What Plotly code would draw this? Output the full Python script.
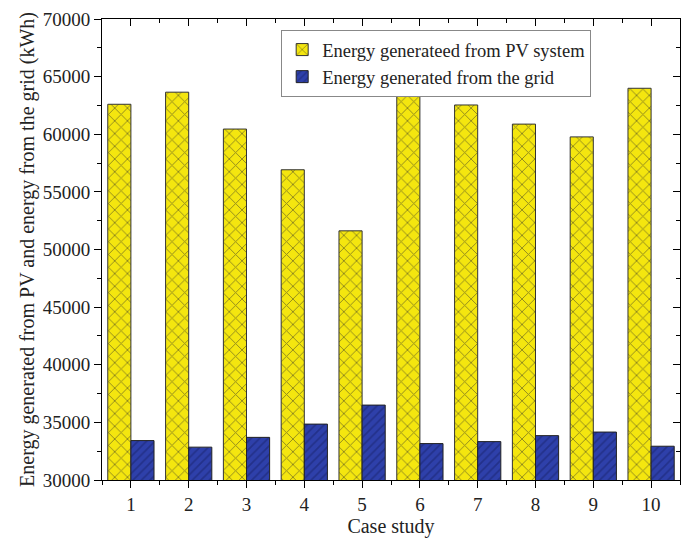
import plotly.graph_objects as go

cases = [1, 2, 3, 4, 5, 6, 7, 8, 9, 10]
pv_energy = [62600, 63650, 60450, 56920, 51620, 63330, 62540, 60880, 59770, 63990]
grid_energy = [33420, 32850, 33700, 34850, 36500, 33160, 33330, 33850, 34160, 32930]
y_ticks = [30000, 35000, 40000, 45000, 50000, 55000, 60000, 65000, 70000]

FONT = "Liberation Serif"

fig = go.Figure()
fig.add_trace(go.Bar(
    x=cases, y=pv_energy, name="Energy generateed from PV system",
    marker=dict(color="#F4E60F", line=dict(color="#333333", width=1),
                pattern=dict(shape="x", fgcolor="#2a2a2a", size=9, solidity=0.2)),
))
fig.add_trace(go.Bar(
    x=cases, y=grid_energy, name="Energy generated from the grid",
    marker=dict(color="#2E40AA", line=dict(color="#222222", width=1),
                pattern=dict(shape="/", fgcolor="#18226A", size=6, solidity=0.3)),
))
# helper trace so the mirrored (inside-tick) axes are drawn
fig.add_trace(go.Scatter(x=[], y=[], xaxis="x2", yaxis="y2", showlegend=False, hoverinfo="skip"))

xr = [0.5, 10.5]
yr = [30000, 70000]

fig.update_layout(
    width=689, height=538,
    margin=dict(l=102, r=9, t=16, b=54),
    paper_bgcolor="white", plot_bgcolor="white",
    barmode="group", bargap=0.2, bargroupgap=0,
    font=dict(family=FONT, size=19, color="#222222"),
    showlegend=True,
    legend=dict(x=0.31, y=0.976, xanchor="left", yanchor="top",
                bordercolor="#888888", borderwidth=1, bgcolor="white",
                font=dict(family=FONT, size=18.5), tracegroupgap=0),
    xaxis=dict(range=xr, tickmode="array", tickvals=cases, ticktext=[str(c) for c in cases],
               ticks="outside", ticklen=7, tickcolor="black", tickwidth=1,
               minor=dict(ticks="outside", ticklen=4, tickcolor="black", tick0=0.5, dtick=1),
               showline=True, linecolor="black", linewidth=1, showgrid=False, zeroline=False,
               title=dict(text="Case study", font=dict(family=FONT, size=20), standoff=0),
               tickfont=dict(family=FONT, size=19)),
    yaxis=dict(range=yr, tickmode="array", tickvals=y_ticks, ticktext=[str(v) for v in y_ticks],
               ticks="outside", ticklen=7, tickcolor="black", tickwidth=1,
               minor=dict(ticks="outside", ticklen=4, tickcolor="black", tick0=32500, dtick=5000),
               showline=True, linecolor="black", linewidth=1, showgrid=False, zeroline=False,
               title=dict(text="Energy generated from PV and energy from the grid (kWh)",
                          font=dict(family=FONT, size=20), standoff=2),
               tickfont=dict(family=FONT, size=19)),
    xaxis2=dict(range=xr, overlaying="x", side="top", anchor="y2", tickmode="array", tickvals=cases,
                showticklabels=False, ticks="inside", ticklen=7, tickcolor="black",
                minor=dict(ticks="inside", ticklen=4, tickcolor="black", tick0=0.5, dtick=1),
                showline=True, linecolor="black", linewidth=1, showgrid=False, zeroline=False),
    yaxis2=dict(range=yr, overlaying="y", side="right", anchor="x2", tickmode="array", tickvals=y_ticks,
                showticklabels=False, ticks="inside", ticklen=7, tickcolor="black",
                minor=dict(ticks="inside", ticklen=4, tickcolor="black", tick0=32500, dtick=5000),
                showline=True, linecolor="black", linewidth=1, showgrid=False, zeroline=False),
)

fig.write_html("out.html")
